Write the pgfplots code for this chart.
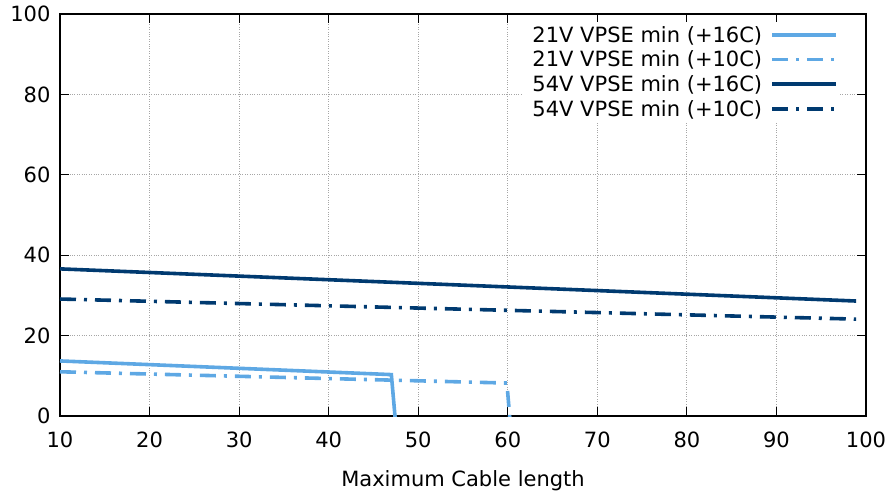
\documentclass[border=0pt]{standalone}
\usepackage{fontspec}
\setmainfont{DejaVu Sans}
\usepackage{pgfplots}
\pgfplotsset{compat=1.18}
\definecolor{lblue}{RGB}{94,168,228}
\definecolor{dblue}{RGB}{0,58,112}
\begin{document}
\begin{tikzpicture}
\begin{axis}[
  scale only axis, width=806pt, height=402pt,
  xmin=10, xmax=100, ymin=0, ymax=100,
  xtick={10,20,...,100}, ytick={0,20,...,100},
  tick align=inside, major tick length=9pt,
  xtick pos=both, ytick pos=both,
  tick style={black, line width=1pt},
  axis line style={black, line width=1.2pt},
  grid=major, major grid style={gray!70, dotted, line width=0.9pt},
  /pgf/number format/assume math mode=true,
  ticklabel style={font=\fontsize{21}{25}\selectfont},
  xlabel={Maximum Cable length},
  xlabel style={font=\fontsize{21}{25}\selectfont, yshift=-16pt},
  xticklabel style={yshift=-12pt},
  yticklabel style={xshift=-6pt},
  clip=true,
  legend style={at={(1,1)}, anchor=north east, xshift=-26pt, yshift=-8pt, draw=none, fill=white,
    font=\fontsize{21}{25}\selectfont, row sep=3.2pt, inner sep=2pt,
    nodes={anchor=east, inner xsep=8pt}},
  legend cell align=right,
  legend plot pos=right,
  legend image code/.code={\draw[#1] (0pt,0pt) -- (64pt,0pt);},
]
\addplot[lblue, line width=3.6pt] coordinates {(10,13.7) (47.0,10.3) (47.6,-5)};
\addlegendentry{21V VPSE min (+16C)}
\addplot[lblue, line width=3.6pt, dash pattern=on 16pt off 8pt on 3pt off 8pt] coordinates {(10,11.0) (59.9,8.2) (60.4,-5)};
\addlegendentry{21V VPSE min (+10C)}
\addplot[dblue, line width=3.6pt] coordinates {(10,36.6) (98.9,28.6)};
\addlegendentry{54V VPSE min (+16C)}
\addplot[dblue, line width=3.6pt, dash pattern=on 16pt off 8pt on 3pt off 8pt] coordinates {(10,29.1) (98.9,24.1)};
\addlegendentry{54V VPSE min (+10C)}
\end{axis}
\pgfresetboundingbox
\path[use as bounding box] (-60pt,-75pt) rectangle (833pt,416pt);
\end{tikzpicture}
\end{document}
